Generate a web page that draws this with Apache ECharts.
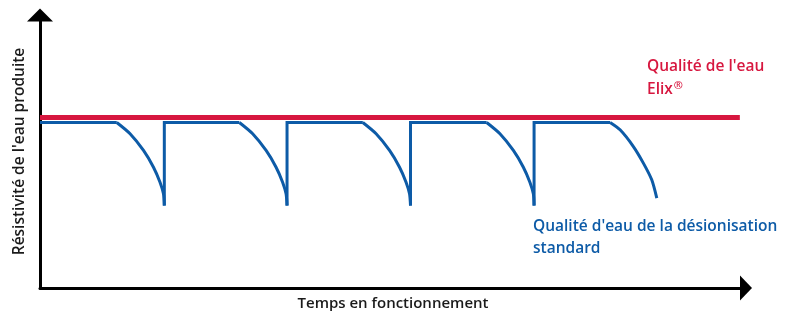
<!DOCTYPE html>
<html>
<head>
<meta charset="utf-8">
<script src="https://cdn.jsdelivr.net/npm/echarts@6/dist/echarts.min.js"></script>
<style>
  html, body { margin: 0; padding: 0; background: #fff; }
  #chart { width: 797px; height: 318px; }
</style>
</head>
<body>
<div id="chart"></div>
<script>
// niveau Elix (rouge)
var redLevel = [[0, 100], [56.8, 100]]

// paliers + remontées verticales (bleu)
var blueSteps = [
  [[0, 97], [6.23, 97]],
  [[10.09, 48.3], [10.09, 97], [16.18, 97]],
  [[20.05, 48.3], [20.05, 97], [26.2, 97]],
  [[30.07, 48.3], [30.07, 97], [36.25, 97]],
  [[40.1, 48.3], [40.1, 97], [46.27, 97]]
]

// chutes de qualité (bleu, courbes)
var blueDrops = [
  [[6.23, 97], [7.31, 90.4], [8.4, 80.6], [9.21, 70.8], [9.74, 62], [10.02, 55.2], [10.09, 48.3]],
  [[16.18, 97], [17.26, 90.4], [18.35, 80.6], [19.16, 70.8], [19.69, 62], [19.97, 55.2], [20.05, 48.3]],
  [[26.2, 97], [27.28, 90.4], [28.37, 80.6], [29.18, 70.8], [29.71, 62], [29.99, 55.2], [30.07, 48.3]],
  [[36.25, 97], [37.33, 90.4], [38.42, 80.6], [39.23, 70.8], [39.76, 62], [40.04, 55.2], [40.1, 48.3]],
  [[46.27, 97], [47.08, 92.7], [48.16, 82.9], [48.97, 73.2], [49.65, 63.4], [50.06, 52.7]]
]

var xName = 'Temps en fonctionnement'
var yName = 'Résistivité de l\'eau produite'
var redText = 'Qualité de l\'eau\nElix{sup|®}'
var blueText = 'Qualité d\'eau de la désionisation\nstandard'

var red = '#d7173f'
var blue = '#0d5ba7'
var font = '"Open Sans", "Noto Sans", sans-serif'

var series = []
blueSteps.forEach(function (seg) {
  series.push({
    type: 'line',
    data: seg,
    symbol: 'none',
    silent: true,
    z: 2,
    lineStyle: { color: blue, width: 3, join: 'miter' }
  })
})
blueDrops.forEach(function (seg) {
  series.push({
    type: 'line',
    data: seg,
    symbol: 'none',
    smooth: 0.25,
    silent: true,
    z: 2,
    lineStyle: { color: blue, width: 3 }
  })
})
series.push({
  type: 'line',
  data: redLevel,
  symbol: 'none',
  silent: true,
  z: 3,
  lineStyle: { color: red, width: 5 }
})

var myChart = echarts.init(document.getElementById('chart'))
var option = {
  backgroundColor: '#fff',
  animation: false,
  grid: { left: 40, right: 51, top: 15, bottom: 30 },
  xAxis: {
    type: 'value',
    min: 0,
    max: 57.3,
    name: xName,
    nameLocation: 'middle',
    nameGap: 8,
    nameTextStyle: { fontFamily: font, fontSize: 15, fontWeight: 600, color: '#1a1a1a' },
    axisLine: {
      lineStyle: { color: '#000', width: 3 },
      symbol: ['none', 'triangle'],
      symbolSize: [25, 12]
    },
    axisTick: { show: false },
    axisLabel: { show: false },
    splitLine: { show: false }
  },
  yAxis: {
    type: 'value',
    min: 0,
    max: 160,
    name: yName,
    nameLocation: 'middle',
    nameGap: 12,
    nameTextStyle: { fontFamily: font, fontSize: 15.5, fontWeight: 600, color: '#1a1a1a' },
    axisLine: {
      show: true,
      lineStyle: { color: '#000', width: 3 },
      symbol: ['none', 'triangle'],
      symbolSize: [26, 13]
    },
    axisTick: { show: false },
    axisLabel: { show: false },
    splitLine: { show: false }
  },
  graphic: [
    {
      type: 'text',
      left: 647,
      top: 55,
      style: {
        text: redText,
        fill: red,
        font: '600 15.5px ' + font,
        lineHeight: 23,
        rich: {
          sup: { fill: red, fontFamily: font, fontWeight: 600, fontSize: 11, lineHeight: 23, padding: [0, 0, 7, 1] }
        }
      }
    },
    {
      type: 'text',
      left: 533,
      top: 216,
      style: { text: blueText, fill: blue, font: '600 15.5px ' + font, lineHeight: 22 }
    }
  ],
  series: series
}
myChart.setOption(option)
</script>
</body>
</html>
